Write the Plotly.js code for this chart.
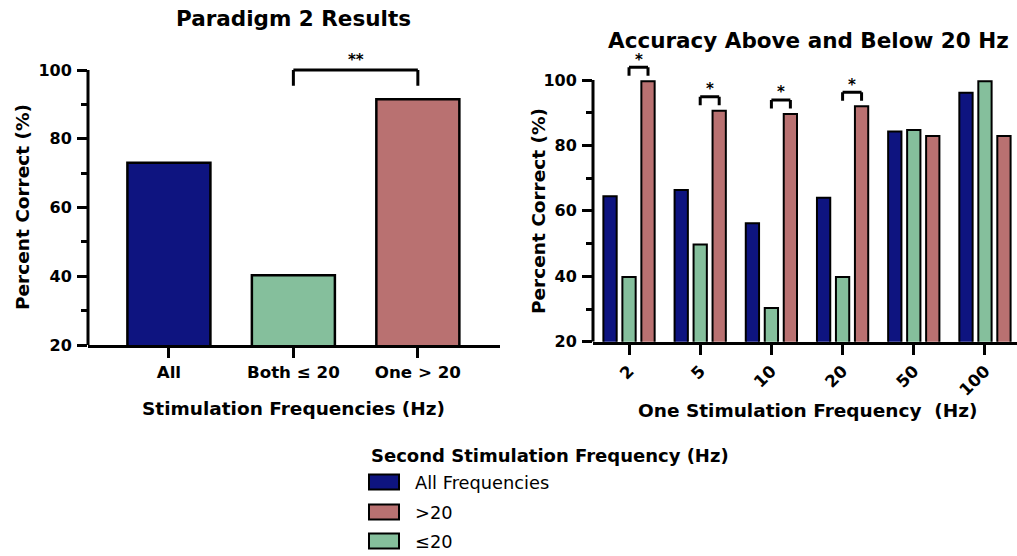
<!DOCTYPE html>
<html>
<head>
<meta charset="utf-8">
<script src="https://cdn.plot.ly/plotly-3.0.1.min.js"></script>
<style>html,body{margin:0;padding:0;background:#fff;}#chart{width:1017px;height:556px;}</style>
</head>
<body>
<div id="chart"></div>
<script>
// ---- Data ----
const leftCategories = ['All', 'Both ≤ 20', 'One > 20'];
const leftValues = [73, 40.3, 91.5];
const leftColors = ['#0e1480', '#85bf9c', '#b97171'];

const freqLabels = ['2', '5', '10', '20', '50', '100'];
const allFreqValues = [64.5, 66.4, 56.2, 64.0, 84.3, 96.1];
const le20Values = [39.8, 49.7, 30.3, 39.8, 84.7, 99.6];
const gt20Values = [99.6, 90.6, 89.6, 92.0, 82.9, 82.9];

const seriesNames = ['All Frequencies', '≤20', '>20'];
const seriesColors = ['#0e1480', '#85bf9c', '#b97171'];
const legendOrder = [0, 2, 1];

const leftSig = {from: 1, to: 2, label: '**'};
const rightSigGroups = [0, 1, 2, 3];
const rightSigLabel = '*';

// ---- Layout helpers ----
const W = 1017, H = 556;
const px = v => v / W;
const py = v => 1 - v / H;
const FONT = 'DejaVu Sans';
const bargap = 0.2;
const slot = (1 - bargap) / 3;

const traces = [
  {
    type: 'bar', x: leftCategories, y: leftValues, xaxis: 'x', yaxis: 'y',
    width: 0.667, showlegend: false,
    marker: {color: leftColors, line: {color: '#000', width: 2.5}},
    hoverinfo: 'x+y'
  }
];
[allFreqValues, le20Values, gt20Values].forEach((vals, i) => {
  traces.push({
    type: 'bar', name: seriesNames[i], x: freqLabels, y: vals,
    xaxis: 'x2', yaxis: 'y2', showlegend: false,
    marker: {color: seriesColors[i], line: {color: '#000', width: 2}}
  });
});

const tickFontY = {family: FONT, size: 16, color: '#000', weight: 700};
const tickFontX = {family: FONT, size: 16.7, color: '#000', weight: 700};
const titleFont = {family: FONT, size: 18.5, color: '#000', weight: 700};

const shapes = [];
const annotations = [];

// y-axis lines (stop at 100)
shapes.push({type: 'line', xref: 'x domain', yref: 'y', x0: 0, x1: 0, y0: 20, y1: 100, line: {color: '#000', width: 3}});
shapes.push({type: 'line', xref: 'x2 domain', yref: 'y2', x0: 0, x1: 0, y0: 20, y1: 100, line: {color: '#000', width: 3}});

function bracket(xref, yref, x0, x1, yTop, yEnd, label, yLabel) {
  const ln = {color: '#000', width: 3};
  shapes.push({type: 'line', xref, yref, x0: x0, x1: x0, y0: yEnd, y1: yTop, line: ln});
  shapes.push({type: 'line', xref, yref, x0: x0, x1: x1, y0: yTop, y1: yTop, line: ln});
  shapes.push({type: 'line', xref, yref, x0: x1, x1: x1, y0: yEnd, y1: yTop, line: ln});
  annotations.push({xref, yref, x: (x0 + x1) / 2, y: yLabel, text: label, showarrow: false,
    font: {family: FONT, size: 15, color: '#000', weight: 700}, yanchor: 'middle'});
}
bracket('x', 'y', leftSig.from, leftSig.to, 100, 95.4, leftSig.label, 102.8);
rightSigGroups.forEach(g => {
  const v = gt20Values[g];
  bracket('x2', 'y2', g, g + slot, v + 4.3, v + 1.7, rightSigLabel, v + 6.6);
});

// titles
function txt(x, y, text, font, extra) {
  annotations.push(Object.assign({xref: 'paper', yref: 'paper', x: px(x), y: py(y), text, showarrow: false,
    font, xanchor: 'center', yanchor: 'middle'}, extra || {}));
}
const bigFont = {family: FONT, size: 21.5, color: '#000', weight: 700};
txt(293, 18, 'Paradigm 2 Results', bigFont);
txt(808, 40, 'Accuracy Above and Below 20 Hz', bigFont);
txt(22, 207, 'Percent Correct (%)', titleFont, {textangle: -90});
txt(538, 211, 'Percent Correct (%)', titleFont, {textangle: -90});
txt(293, 408, 'Stimulation Frequencies (Hz)', titleFont);
txt(808, 410, 'One Stimulation Frequency \u00a0(Hz)', titleFont);

// legend (manual)
txt(369, 455, 'Second Stimulation Frequency (Hz)', {family: FONT, size: 18, color: '#000', weight: 700}, {xanchor: 'left'});
const rowY = [482, 512, 541];
legendOrder.forEach((si, r) => {
  shapes.push({type: 'rect', xref: 'paper', yref: 'paper', x0: px(369), x1: px(399),
    y0: py(rowY[r] + 7.5), y1: py(rowY[r] - 7.5), fillcolor: seriesColors[si], line: {color: '#000', width: 2}});
  txt(413, rowY[r], seriesNames[si], {family: FONT, size: 17.8, color: '#000'}, {xanchor: 'left'});
});

const baseX = {
  type: 'category', showline: true, linecolor: '#000', linewidth: 3, ticks: 'outside',
  ticklen: 10, tickwidth: 3, tickcolor: '#000', tickfont: tickFontX, showgrid: false, zeroline: false,
  fixedrange: true
};
const baseY = {
  showline: false, ticks: 'outside', ticklen: 10, tickwidth: 3, tickcolor: '#000',
  tickmode: 'array', tickvals: [20, 40, 60, 80, 100], tickfont: tickFontY,
  showgrid: false, zeroline: false, ticklabelstandoff: 2,
  minor: {tickmode: 'array', tickvals: [30, 50, 70, 90], ticks: 'outside', ticklen: 6, tickwidth: 3, tickcolor: '#000', showgrid: false},
  fixedrange: true
};

const layout = {
  width: W, height: H, margin: {l: 0, r: 0, t: 0, b: 0},
  paper_bgcolor: '#fff', plot_bgcolor: '#fff', showlegend: false,
  barmode: 'group', bargap: bargap, bargroupgap: 0.3,
  font: {family: FONT, color: '#000'},
  xaxis: Object.assign({}, baseX, {domain: [px(88), px(500)], range: [-0.65, 2.66], anchor: 'y', tickangle: 0}),
  yaxis: Object.assign({}, baseY, {domain: [py(345), py(49.4)], range: [20, 106], anchor: 'x'}),
  xaxis2: Object.assign({}, baseX, {domain: [px(593), 1], range: [-0.506, 5.45], anchor: 'y2', tickangle: -45}),
  yaxis2: Object.assign({}, baseY, {domain: [py(341.7), py(53.9)], range: [20, 108], anchor: 'x2'}),
  shapes, annotations
};

Plotly.newPlot('chart', traces, layout, {displayModeBar: false, staticPlot: true});
</script>
</body>
</html>
